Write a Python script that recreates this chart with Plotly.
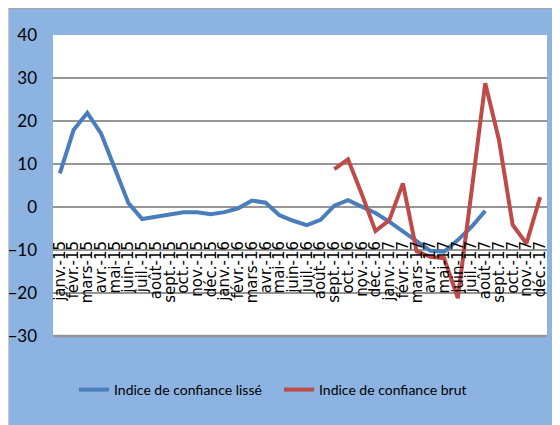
import plotly.graph_objects as go

months = ["janv.", "févr.", "mars", "avr.", "mai", "juin", "juil.", "août",
          "sept.", "oct.", "nov.", "déc."]
categories = [f"{m}-{y}" for y in ("15", "16", "17") for m in months]

lisse = [7.8, 17.9, 21.9, 17.1, 9.0, 0.9, -2.8, -2.3, -1.9, -1.2, -1.2, -1.7,
         -1.2, -0.3, 1.5, 1.0, -1.9, -3.2, -4.2, -3.0, 0.3, 1.6, 0.1, -1.4,
         -3.4, -5.7, -8.1, -10.2, -10.4, -7.7, -4.6, -0.9]
brut = [8.8, 11.1, 3.0, -5.6, -3.1, 5.5, -10.3, -11.6, -11.9, -21.2, 3.6,
        28.8, 15.6, -4.2, -8.5, 2.3]
brut_start = 20

y_ticks = [40, 30, 20, 10, 0, -10, -20, -30]

BLUE_BG = "#8DB3E2"
GRID = "#969696"
NARROW = "Lato, Liberation Sans, sans-serif"

fig = go.Figure()
fig.add_trace(go.Scatter(
    x=categories[:len(lisse)], y=lisse, mode="lines",
    name="Indice de confiance lissé",
    line=dict(color="#4A7EBB", width=4)))
fig.add_trace(go.Scatter(
    x=categories[brut_start:brut_start + len(brut)], y=brut, mode="lines",
    name="Indice de confiance brut",
    line=dict(color="#BE4B48", width=4)))

L, R, T, B = 45, 21, 27, 97
W, H = 560, 425
pw, ph = W - L - R, H - T - B
zero_pos = (0 - (-30)) / 70.0

fig.update_layout(
    width=W, height=H,
    margin=dict(l=L, r=R, t=T, b=B, pad=0, autoexpand=False),
    paper_bgcolor=BLUE_BG, plot_bgcolor="white",
    showlegend=True,
    legend=dict(orientation="h", x=(66 - L) / pw, xanchor="left",
                y=(T + ph - 382) / ph, yanchor="middle",
                font=dict(family=NARROW, size=14, color="black"),
                bgcolor="rgba(0,0,0,0)", entrywidth=160, itemwidth=30),
    xaxis=dict(type="category", categoryorder="array", categoryarray=categories,
               tickmode="array", tickvals=categories, ticktext=categories,
               range=[-0.5, len(categories) - 0.5], automargin=False,
               anchor="free", position=zero_pos,
               showgrid=False, showline=False, zeroline=False, ticks="",
               tickangle=-90, ticklabelstandoff=30,
               tickfont=dict(family="DejaVu Sans", size=15, color="black")),
    yaxis=dict(range=[-30, 40], tickvals=y_ticks, showgrid=True, automargin=False,
               gridcolor=GRID, gridwidth=1.5, zeroline=True, zerolinecolor=GRID,
               zerolinewidth=1.5, showline=False, ticks="",
               ticklabelstandoff=15,
               tickfont=dict(family=NARROW, size=17, color="black")),
    shapes=[
        dict(type="line", xref="paper", yref="paper", x0=-L / pw, x1=1.3,
             y0=1 + T / ph, y1=1 + T / ph, line=dict(color="#A6A6A6", width=2)),
        dict(type="line", xref="paper", yref="paper", x0=-L / pw, x1=-L / pw,
             y0=-0.5, y1=1 + T / ph, line=dict(color="#C8C8C8", width=2)),
        dict(type="line", xref="paper", yref="paper", x0=0, x1=1,
             y0=0, y1=0, line=dict(color=GRID, width=2.5)),
    ],
)

fig.write_html("out.html")
